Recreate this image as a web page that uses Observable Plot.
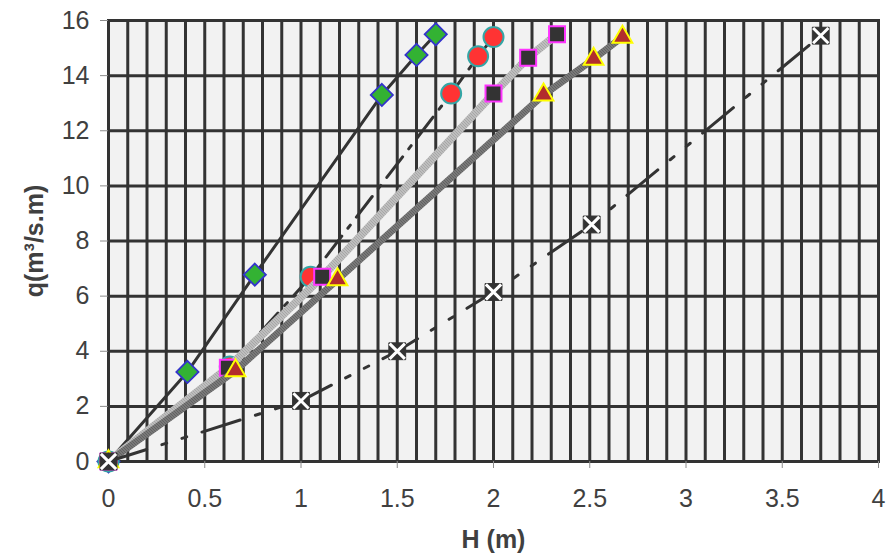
<!DOCTYPE html>
<html><head><meta charset="utf-8">
<script src="https://cdn.jsdelivr.net/npm/d3@7"></script>
<script src="https://cdn.jsdelivr.net/npm/@observablehq/plot@0.6"></script>
<style>body{margin:0;background:#fff;font-family:"Liberation Sans",Arial,sans-serif;}</style>
</head><body><div id="chart"></div>
<script>
// Data
const H1 = [0, 0.41, 0.76, 1.42, 1.6, 1.7];
const q1 = [0, 3.25, 6.78, 13.3, 14.75, 15.5];
const H2 = [0, 0.63, 1.05, 1.78, 1.92, 2.0];
const q2 = [0, 3.45, 6.7, 13.35, 14.7, 15.4];
const H3 = [0, 0.62, 1.11, 2.0, 2.18, 2.33];
const q3 = [0, 3.4, 6.7, 13.35, 14.65, 15.5];
const H4 = [0, 0.66, 1.19, 2.26, 2.52, 2.67];
const q4 = [0, 3.3, 6.6, 13.3, 14.6, 15.4];
const H5 = [0, 1.0, 1.5, 2.0, 2.51, 3.7];
const q5 = [0, 2.2, 4.0, 6.15, 8.6, 15.45];

const xTicks = [0, 0.5, 1, 1.5, 2, 2.5, 3, 3.5, 4];
const yTicks = [0, 2, 4, 6, 8, 10, 12, 14, 16];
const xGrid = [0,0.1,0.2,0.3,0.4,0.5,0.6,0.7,0.8,0.9,1,1.1,1.2,1.3,1.4,1.5,1.6,1.7,1.8,1.9,2,2.1,2.2,2.3,2.4,2.5,2.6,2.7,2.8,2.9,3,3.1,3.2,3.3,3.4,3.5,3.6,3.7,3.8,3.9,4];

const pts = (H, q) => H.map((h, i) => ({H: h, q: q[i]}));
const s1 = pts(H1, q1), s2 = pts(H2, q2), s3 = pts(H3, q3), s4 = pts(H4, q4), s5 = pts(H5, q5);

const font = '"Liberation Sans", Arial, sans-serif';

const chart = Plot.plot({
  width: 887,
  height: 559,
  marginLeft: 108,
  marginRight: 9,
  marginTop: 20,
  marginBottom: 98,
  style: {fontFamily: font, background: "#ffffff", overflow: "visible"},
  x: {domain: [0, 4]},
  y: {domain: [0, 16]},
  marks: [
    Plot.frame({fill: "#f2f2f2", stroke: null}),
    Plot.ruleX(xGrid, {stroke: "#333333", strokeWidth: 3}),
    Plot.ruleY(yTicks, {stroke: "#333333", strokeWidth: 3}),
    Plot.frame({stroke: "#333333", strokeWidth: 3}),
    Plot.axisX({ticks: xTicks, tickSize: 7, tickPadding: 21, fontSize: 25, stroke: "#8c8c8c", color: "#404040", tickFormat: d => String(d), label: null}),
    Plot.axisY({ticks: yTicks, tickSize: 8, tickPadding: 11, fontSize: 25, stroke: "#8c8c8c", color: "#404040", label: null}),
    // series 1: green diamonds, solid line
    Plot.line(s1, {x: "H", y: "q", stroke: "#333333", strokeWidth: 3}),
    Plot.dot(s1, {x: "H", y: "q", symbol: "diamond2", r: 10, fill: "#33b233", stroke: "#3333cc", strokeWidth: 1.8}),
    // series 2: red circles, long dash-dot line
    Plot.line(s2, {x: "H", y: "q", stroke: "#333333", strokeWidth: 3, strokeDasharray: "26,10,4,10"}),
    Plot.dot(s2, {x: "H", y: "q", symbol: "circle", r: 10, fill: "#ff3333", stroke: "#33a6a6", strokeWidth: 2}),
    // series 3: squares, light textured line
    Plot.line(s3, {x: "H", y: "q", stroke: "url(#texLight)", strokeWidth: 8}),
    Plot.dot(s3, {x: "H", y: "q", symbol: "square", r: 9, fill: "#333333", stroke: "#ff33ff", strokeWidth: 2}),
    // series 4: triangles, dark textured line
    Plot.line(s4, {x: "H", y: "q", stroke: "url(#texDark)", strokeWidth: 7}),
    Plot.dot(s4, {x: "H", y: "q", symbol: "triangle", r: 7.3, fill: "#b22d2d", stroke: "#ffff00", strokeWidth: 2}),
    // series 5: X squares, dash-dot-dot line
    Plot.line(s5, {x: "H", y: "q", stroke: "#333333", strokeWidth: 3, strokeDasharray: "40,16,5,16,5,16"}),
    Plot.dot(s5, {x: "H", y: "q", symbol: "square", r: 9.5, fill: "#333333", stroke: "#333333", strokeWidth: 1}),
    Plot.dot(s5, {x: "H", y: "q", symbol: "times", r: 7, stroke: "#ffffff", strokeWidth: 3}),
    // axis titles
    Plot.text(["H (m)"], {frameAnchor: "bottom", dy: 86, fontSize: 25, fontWeight: "bold", fill: "#404040", fontFamily: font}),
    Plot.text(["q(m³/s.m)"], {frameAnchor: "left", dx: -74, rotate: -90, textAnchor: "middle", fontSize: 25, fontWeight: "bold", fill: "#404040", fontFamily: font})
  ]
});

// texture patterns for the gray lines
const ns = "http://www.w3.org/2000/svg";
const defs = document.createElementNS(ns, "defs");
function makePattern(id, bg, fg) {
  const p = document.createElementNS(ns, "pattern");
  p.setAttribute("id", id);
  p.setAttribute("patternUnits", "userSpaceOnUse");
  p.setAttribute("width", 3);
  p.setAttribute("height", 3);
  const r0 = document.createElementNS(ns, "rect");
  r0.setAttribute("width", 3); r0.setAttribute("height", 3); r0.setAttribute("fill", bg);
  p.appendChild(r0);
  [[0,0],[1,1],[2,2]].forEach(([x, y]) => {
    const r = document.createElementNS(ns, "rect");
    r.setAttribute("x", x); r.setAttribute("y", y);
    r.setAttribute("width", 1); r.setAttribute("height", 1); r.setAttribute("fill", fg);
    p.appendChild(r);
  });
  defs.appendChild(p);
}
makePattern("texLight", "#d4d4d4", "#7a7a7a");
makePattern("texDark", "#909090", "#333333");
chart.insertBefore(defs, chart.firstChild);

document.getElementById("chart").appendChild(chart);
</script></body></html>
